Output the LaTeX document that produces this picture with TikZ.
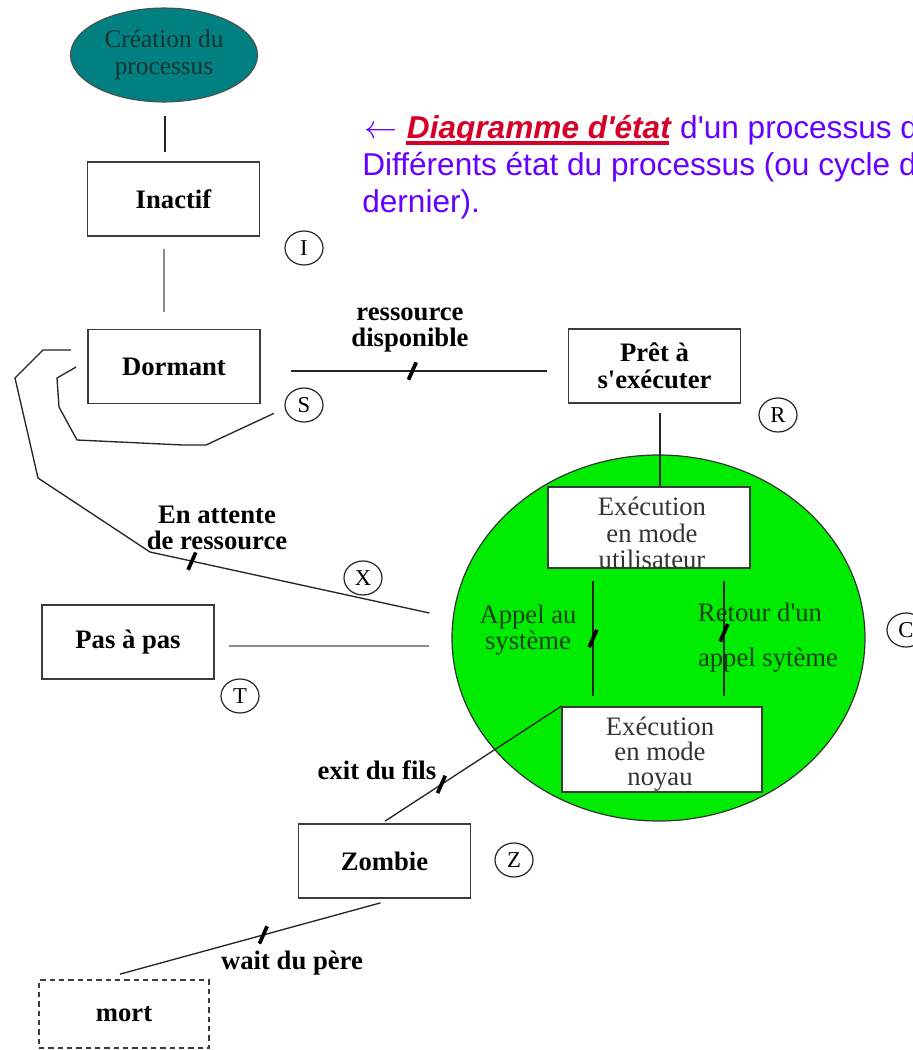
\documentclass[tikz,border=0pt]{standalone}
\usepackage{fontspec}
\newfontfamily\rmf{Liberation Serif}
\newfontfamily\sansf{Liberation Sans}
\usetikzlibrary{shapes.geometric,calc}
\definecolor{tealc}{RGB}{0,128,128}
\definecolor{tealtext}{RGB}{25,50,50}
\definecolor{greenc}{RGB}{0,236,0}
\definecolor{gtext}{RGB}{25,65,25}
\definecolor{violetc}{RGB}{102,0,255}
\definecolor{redc}{RGB}{212,0,40}
\definecolor{boxline}{RGB}{60,60,60}
\tikzset{
  box/.style={draw=boxline, line width=1.3pt, fill=white, inner sep=0pt,
    minimum width=172*0.75pt, minimum height=74*0.75pt, align=center,
    font=\rmf\bfseries\fontsize{20}{20}\selectfont},
  ibox/.style={draw=boxline, line width=1.1pt, fill=white, inner sep=0pt},
  itext/.style={align=center, text=black!80, inner sep=0pt},
  lbl/.style={align=center, inner sep=0pt, font=\rmf\bfseries\fontsize{20}{20}\selectfont},
  glbl/.style={align=center, inner sep=0pt, text=gtext, font=\rmf\fontsize{20}{20}\selectfont},
  circ/.style={ellipse, draw=black!85, line width=0.9pt, inner sep=0pt,
    minimum width=38*0.75pt, minimum height=34*0.75pt, font=\rmf\fontsize{17}{17}\selectfont},
  conn/.style={draw=black!85, line width=1pt},
  gconn/.style={draw=black!45, line width=1.6pt},
  tickmk/.style={fill=black, inner sep=0pt, minimum width=19*0.75pt, minimum height=2.8pt, rotate=66},
  bluet/.style={inner sep=0pt, anchor=base west, text=violetc, font=\sansf\fontsize{23.7}{27.75}\selectfont},
}
\begin{document}
\begin{tikzpicture}[x=0.75pt,y=-0.75pt,font=\rmf]
\useasboundingbox (0,0) rectangle (913,1050);
\clip (0,0) rectangle (913,1050);
\fill[white] (0,0) rectangle (913,1050);

% creation ellipse
\node[ellipse, fill=tealc, draw=black!70, line width=0.8pt, inner sep=0pt,
  minimum width=187*0.75pt, minimum height=94*0.75pt, align=center, text=tealtext,
  font=\rmf\fontsize{19}{20}\selectfont] (crea) at (164,55) {Création du\\processus};

% state boxes
\node[box] (inactif) at (173.5,199) {Inactif};
\node[box] (dormant) at (174,366.5) {Dormant};
\node[box] (pret) at (654.5,366) {Prêt à\\s'exécuter};
\node[box] (pas) at (128,642) {Pas à pas};
\node[box] (zombie) at (384.5,861) {Zombie};
\node[box, dashed, dash pattern=on 4pt off 3pt, minimum width=170*0.75pt, minimum height=68*0.75pt] (mort) at (124,1014) {mort};

% green CPU ellipse
\node[ellipse, fill=greenc, draw=black!80, line width=0.9pt, inner sep=0pt,
  minimum width=413*0.75pt, minimum height=366*0.75pt] (cpu) at (658.5,638) {};

% inner boxes
\node[ibox, minimum width=202*0.75pt, minimum height=81*0.75pt] (user) at (649,527.5) {};
\node[itext, font=\rmf\fontsize{20}{20}\selectfont] (usert) at (652,533) {Exécution\\en mode\\utilisateur};
\node[ibox, minimum width=200*0.75pt, minimum height=85*0.75pt] (noyau) at (662,749.5) {};
\node[itext, font=\rmf\fontsize{20}{19}\selectfont] (noyaut) at (660,754) {Exécution\\en mode\\noyau};

% circled letters
\node[circ] (cI) at (304,248) {I};
\node[circ] (cS) at (304,405) {S};
\node[circ] (cR) at (778,415) {R};
\node[circ] (cX) at (363,578) {X};
\node[circ] (cT) at (240,696) {T};
\node[circ] (cZ) at (514,860) {Z};
\node[circ] (cC) at (906,630) {C};

% connectors
\draw[conn] ($(crea.south)+(1,13)$) -- ($(crea.south |- inactif.north)+(1,-9)$);
\draw[gconn] ($(inactif.south -| crea.south)+(0,12)$) -- ($(dormant.north -| crea.south)+(0,-17)$);
\draw[conn] ($(dormant.east)+(30,4.5)$) -- node[pos=0.475, tickmk]{} ($(pret.west |- dormant.east)+(-21,4.5)$);
\draw[conn] ($(pret.south)+(5.5,9)$) -- ($(user.north)+(11,0)$);
\draw[gconn] ($(pas.east)+(14,4)$) -- ($(cpu.west |- pas.east)+(-22,4)$);
\draw[conn] ($(user.south)+(-56,12)$) -- node[pos=0.5, tickmk]{} ($(noyau.north)+(-69,-10)$);
\draw[conn] ($(user.south)+(75,12)$) -- node[pos=0.45, tickmk]{} ($(noyau.north)+(62,-10)$);
\draw[conn] (noyau.north west) -- node[pos=0.68, tickmk]{} ($(zombie.north)+(0.5,-2)$);
\draw[conn] ($(zombie.south)+(-4,4)$) -- node[pos=0.45, tickmk]{} ($(mort.north)+(-4,-5)$);
% waiting for resource (X)
\draw[conn] ($(cpu.west)+(-22,-25)$) -- node[pos=0.85, tickmk]{} (150,552) -- (38,478) -- (15,378) -- (43,350) -- ($(dormant.west)+(-16,-16.5)$);
% self loop (S)
\draw[conn] ($(dormant.south east)+(13,9)$) -- (206,445) -- (183,445) -- (77,440) -- (59,407) -- (57,378) -- ($(dormant.west)+(-11,0.5)$);

% connector labels
\node[lbl] (lres) at (410,330) {ressource\\disponible};
\node[lbl] (latt) at (217,528) {En attente\\de ressource};
\node[lbl] (lexit) at (377,770) {exit du fils};
\node[lbl] (lwait) at (292,963) {wait du père};
\node[glbl] (lappel) at (528,630) {Appel au\\système};
\node[glbl] (lret1) at (760,612) {Retour d'un};
\node[glbl] (lret2) at (768,660) {appel sytème};

% blue caption
\node[bluet] (b1) at (364,138) {\fontsize{23.7}{27.75}\selectfont$\leftarrow$};
\node[bluet, text=redc, font=\sansf\bfseries\itshape\fontsize{23.7}{27.75}\selectfont] (b2) at ($(b1.base east)+(9,0)$) {Diagramme d'état};
\node[bluet] (b3) at ($(b2.base east)+(0,0)$) {\ d'un processus d};
\draw[redc, line width=2.4pt] ($(b2.base west)+(-1,5)$) -- ($(b2.base east)+(-2,5)$);
\node[bluet] (b4) at (362,175) {Différents état du processus (ou cycle d};
\node[bluet] (b5) at (362,212) {dernier).};
\end{tikzpicture}
\end{document}
